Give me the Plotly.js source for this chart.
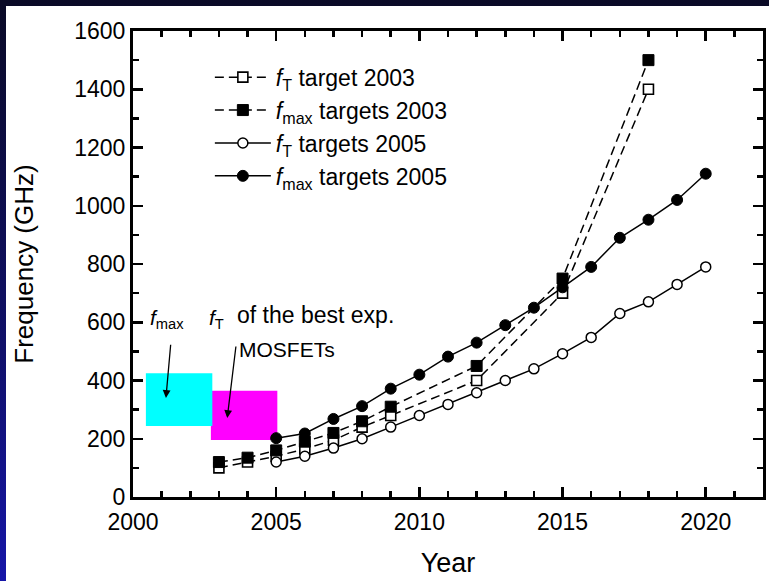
<!DOCTYPE html>
<html>
<head>
<meta charset="utf-8">
<script src="https://cdn.plot.ly/plotly-3.0.1.min.js"></script>
<style>
  html, body { margin: 0; padding: 0; }
  body {
    width: 769px; height: 581px; overflow: hidden;
    background: linear-gradient(to bottom, #0a0a26 0%, #10106a 60%, #1616a8 100%);
  }
  #chart { position: absolute; left: 6px; top: 6px; width: 763px; height: 575px; background: #fff; }
</style>
</head>
<body>
<div id="chart"></div>
<script>
// ITRS roadmap targets for RF MOSFET cut-off and maximum oscillation frequencies (GHz)
const years2003 = [2003, 2004, 2005, 2006, 2007, 2008, 2009, 2012, 2015, 2018];
const fT2003    = [100, 120, 140, 165, 195, 240, 280, 400, 700, 1400];
const fmax2003  = [120, 135, 160, 190, 220, 260, 310, 450, 750, 1500];

const years2005 = [2005, 2006, 2007, 2008, 2009, 2010, 2011, 2012, 2013, 2014, 2015, 2016, 2017, 2018, 2019, 2020];
const fT2005    = [120, 140, 168, 200, 240, 280, 318, 358, 400, 440, 492, 548, 630, 670, 730, 790];
const fmax2005  = [202, 218, 268, 312, 372, 420, 482, 530, 590, 650, 720, 790, 890, 952, 1020, 1110];

// range of the best experimental MOSFETs: [start year, end year] and [low, high] GHz
const bestFmaxYears = [2000.45, 2002.77];
const bestFmaxRange = [244, 425];
const bestFtYears   = [2002.72, 2005.04];
const bestFtRange   = [196, 365];

const xTicks = [2000, 2005, 2010, 2015, 2020];
const yTicks = [0, 200, 400, 600, 800, 1000, 1200, 1400, 1600];

const FONT = 'Liberation Sans, Arial, Helvetica, sans-serif';
const dashPat = '9px,5px';

const traces = [
  {
    x: years2003, y: fT2003, mode: 'lines+markers',
    name: '<i>f</i><sub>T</sub> target 2003',
    line: {color: '#000', width: 1.5, dash: dashPat},
    marker: {symbol: 'square', size: 10, color: '#fff', line: {color: '#000', width: 1.6}}
  },
  {
    x: years2003, y: fmax2003, mode: 'lines+markers',
    name: '<i>f</i><sub>max</sub> targets 2003',
    line: {color: '#000', width: 1.5, dash: dashPat},
    marker: {symbol: 'square', size: 11, color: '#000', line: {color: '#000', width: 1}}
  },
  {
    x: years2005, y: fT2005, mode: 'lines+markers',
    name: '<i>f</i><sub>T</sub> targets 2005',
    line: {color: '#000', width: 1.5},
    marker: {symbol: 'circle', size: 10, color: '#fff', line: {color: '#000', width: 1.5}}
  },
  {
    x: years2005, y: fmax2005, mode: 'lines+markers',
    name: '<i>f</i><sub>max</sub> targets 2005',
    line: {color: '#000', width: 1.5},
    marker: {symbol: 'circle', size: 11, color: '#000', line: {color: '#000', width: 1}}
  }
];

const axisCommon = {
  showgrid: false, zeroline: false,
  showline: true, linecolor: '#000', linewidth: 3, mirror: 'ticks',
  ticks: 'inside', ticklen: 10, tickwidth: 2.5, tickcolor: '#000',
  tickfont: {family: FONT, size: 23, color: '#000'}
};

const layout = {
  width: 763, height: 575,
  margin: {l: 127, r: 6, t: 25, b: 84},
  paper_bgcolor: '#fff', plot_bgcolor: '#fff',
  font: {family: FONT, color: '#000'},
  showlegend: true,
  legend: {
    x: 0.122, y: 0.947, xanchor: 'left', yanchor: 'top',
    bgcolor: 'rgba(0,0,0,0)', borderwidth: 0,
    font: {family: FONT, size: 23, color: '#000'},
    itemwidth: 56, tracegroupgap: 0
  },
  xaxis: Object.assign({}, axisCommon, {
    range: [2000, 2022], tickvals: xTicks, ticktext: xTicks.map(String),
    ticklabelstandoff: 2,
    minor: {dtick: 1, tick0: 2000, ticks: 'inside', ticklen: 6, tickwidth: 2.5, tickcolor: '#000'},
    title: {text: 'Year', font: {family: FONT, size: 27, color: '#000'}, standoff: 20}
  }),
  yaxis: Object.assign({}, axisCommon, {
    range: [0, 1600], tickvals: yTicks, ticktext: yTicks.map(String),
    minor: {dtick: 100, tick0: 0, ticks: 'inside', ticklen: 6, tickwidth: 2.5, tickcolor: '#000'},
    title: {text: 'Frequency (GHz)', font: {family: FONT, size: 26, color: '#000'}, standoff: 34}
  }),
  shapes: [
    {type: 'rect', xref: 'x', yref: 'y', layer: 'below',
     x0: bestFtYears[0], x1: bestFtYears[1], y0: bestFtRange[0], y1: bestFtRange[1],
     fillcolor: '#ff00ff', line: {width: 0}},
    {type: 'rect', xref: 'x', yref: 'y', layer: 'below',
     x0: bestFmaxYears[0], x1: bestFmaxYears[1], y0: bestFmaxRange[0], y1: bestFmaxRange[1],
     fillcolor: '#00ffff', line: {width: 0}}
  ],
  annotations: [
    {x: 2001.2, y: 610, xref: 'x', yref: 'y', text: '<i>f</i><sub>max</sub>', showarrow: false,
     font: {family: FONT, size: 21, color: '#000'}},
    {x: 2002.9, y: 612, xref: 'x', yref: 'y', text: '<i>f</i><sub>T</sub>', showarrow: false,
     font: {family: FONT, size: 21, color: '#000'}},
    {x: 2006.38, y: 625, xref: 'x', yref: 'y', text: 'of the best exp.', showarrow: false,
     font: {family: FONT, size: 23, color: '#000'}},
    {x: 2005.39, y: 505, xref: 'x', yref: 'y', text: 'MOSFETs', showarrow: false,
     font: {family: FONT, size: 21, color: '#000'}},
    // pointer arrows from the labels into the two boxes
    {x: 2001.15, y: 340, ax: 2001.32, ay: 528, xref: 'x', yref: 'y', axref: 'x', ayref: 'y',
     text: '', showarrow: true, arrowhead: 2, arrowsize: 1.2, arrowwidth: 1.3, arrowcolor: '#000'},
    {x: 2003.29, y: 271, ax: 2003.6, ay: 522, xref: 'x', yref: 'y', axref: 'x', ayref: 'y',
     text: '', showarrow: true, arrowhead: 2, arrowsize: 1.2, arrowwidth: 1.3, arrowcolor: '#000'}
  ]
};

Plotly.newPlot('chart', traces, layout, {displayModeBar: false, staticPlot: true});
</script>
</body>
</html>
